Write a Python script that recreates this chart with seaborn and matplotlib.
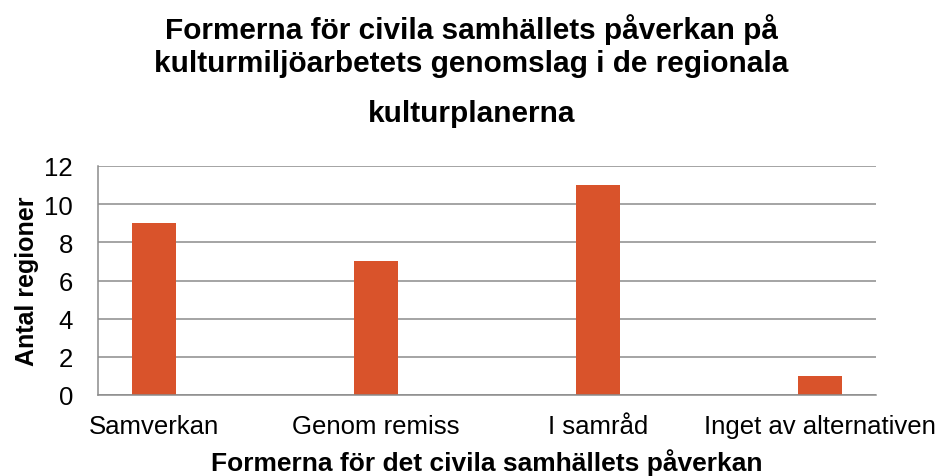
import numpy as np
import pandas as pd
import matplotlib
matplotlib.use('Agg')
import matplotlib.pyplot as plt
import seaborn as sns

# --- data ---
kategorier = ['Samverkan', 'Genom remiss', 'I samråd', 'Inget av alternativen']
antal = [9, 7, 11, 1]
titel_rader = ['Formerna för civila samhällets påverkan på',
               'kulturmiljöarbetets genomslag i de regionala',
               'kulturplanerna']
y_ticks = [0, 2, 4, 6, 8, 10, 12]

df = pd.DataFrame({'Form': kategorier, 'Antal': antal})

sns.set_theme(style='white')
plt.rcParams['font.family'] = ['Liberation Sans', 'DejaVu Sans']
plt.rcParams['text.color'] = 'black'
plt.rcParams['axes.labelcolor'] = 'black'

fig = plt.figure(figsize=(9.43, 4.77), dpi=100)
ax = fig.add_axes([98 / 943, 81 / 477, 778 / 943, 229 / 477])

sns.barplot(data=df, x='Form', y='Antal', ax=ax, color='#D9532B',
            width=0.2, saturation=1, order=kategorier, linewidth=0)

ax.set_xlim(-0.252, 3.252)
ax.set_ylim(0, 12)
ax.set_yticks(y_ticks)
ax.yaxis.grid(True, color='#8c8c8c', linewidth=1.1)
ax.set_axisbelow(True)
for s in ['top', 'right']:
    ax.spines[s].set_visible(False)
ax.spines['left'].set_color('#8c8c8c')
ax.spines['bottom'].set_color('#8c8c8c')
ax.spines['left'].set_linewidth(1.1)
ax.spines['bottom'].set_linewidth(1.1)
ax.tick_params(axis='both', length=0, labelsize=18.5, colors='black')
ax.tick_params(axis='y', pad=18)
ax.tick_params(axis='x', pad=14)

ax.set_xlabel('Formerna för det civila samhällets påverkan', fontsize=19,
              fontweight='bold', labelpad=7)
ax.set_ylabel('Antal regioner', fontsize=18, fontweight='bold', labelpad=4)

# titel, tre rader (sista raden med större avstånd)
baslinjer = [39, 72, 122]
for rad, yb in zip(titel_rader, baslinjer):
    fig.text(0.5, 1 - yb / 477, rad, ha='center', va='baseline',
             fontsize=21.4, fontweight='bold')

fig.savefig('out.png', dpi=100)
